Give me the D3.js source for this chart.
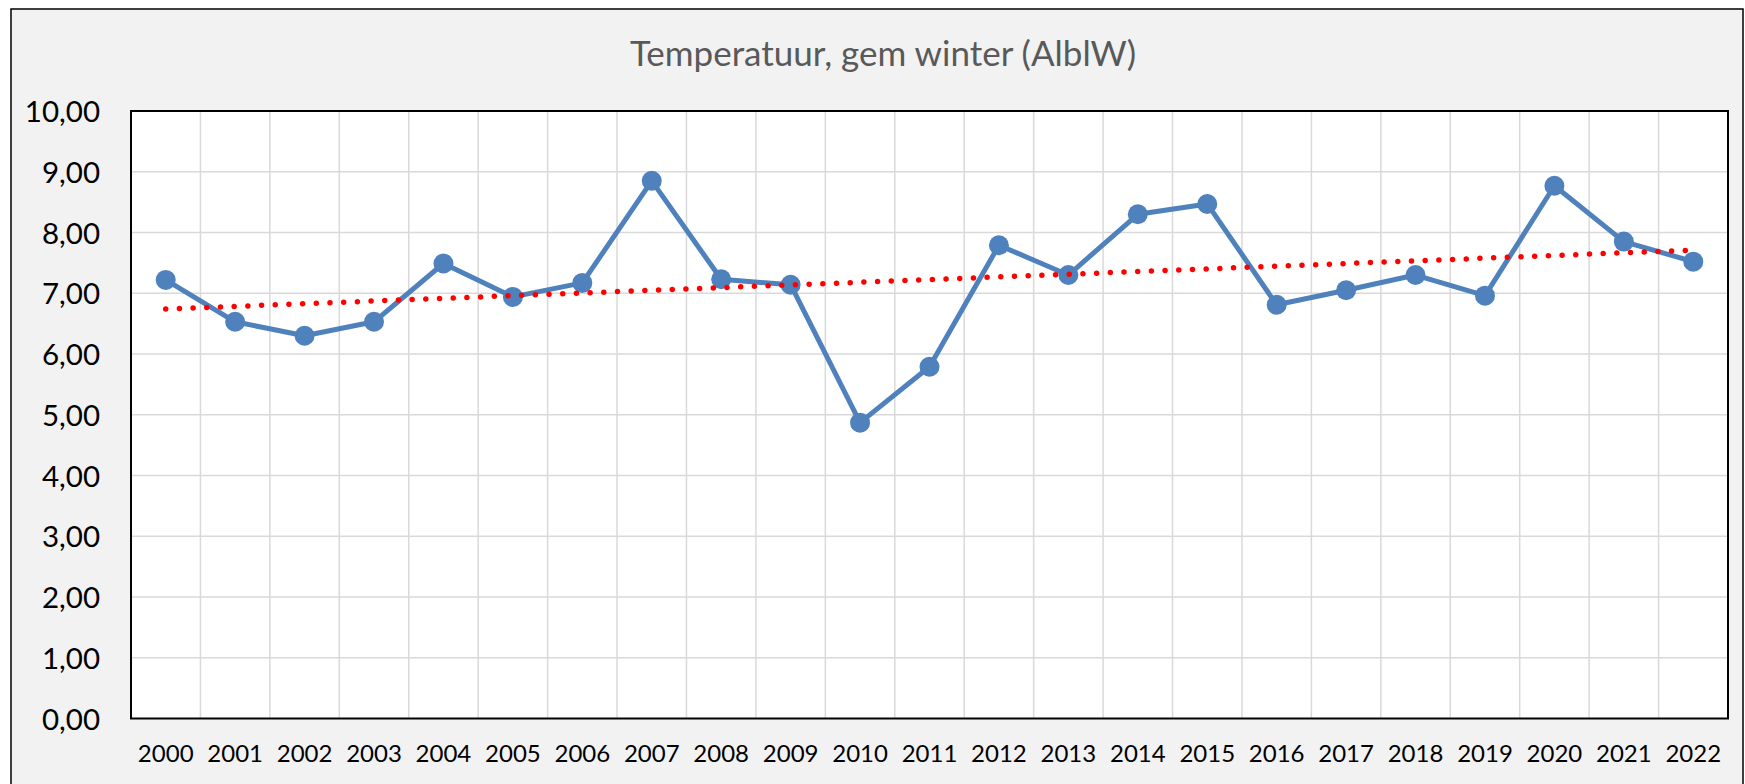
<!DOCTYPE html>
<html>
<head>
<meta charset="utf-8">
<script src="https://cdn.jsdelivr.net/npm/d3@7"></script>
<style>
  html, body { margin: 0; padding: 0; background: #ffffff; }
  svg { display: block; }
</style>
</head>
<body>
<svg id="chart" width="1745" height="784"></svg>
<script>
// ---- data ----
const years = ["2000","2001","2002","2003","2004","2005","2006","2007","2008","2009","2010","2011",
               "2012","2013","2014","2015","2016","2017","2018","2019","2020","2021","2022"];
const temps = [7.22, 6.53, 6.30, 6.53, 7.49, 6.94, 7.17, 8.85, 7.23, 7.14, 4.87, 5.79,
               7.79, 7.30, 8.30, 8.47, 6.81, 7.05, 7.30, 6.96, 8.77, 7.85, 7.52];
const trendYears = ["2000", "2022"];
const trendValues = [6.74, 7.71];
const yTicks = [0, 1, 2, 3, 4, 5, 6, 7, 8, 9, 10];
const title = "Temperatuur, gem winter (AlblW)";

// ---- layout ----
const W = 1745, H = 784;
const plot = { left: 131, right: 1728, top: 111, bottom: 718.5 };
const svg = d3.select("#chart");

const x = d3.scaleBand().domain(years).range([plot.left, plot.right]).padding(0);
const y = d3.scaleLinear().domain([0, 10]).range([plot.bottom, plot.top]);
const cx = d => x(d) + x.bandwidth() / 2;

const nl = d3.formatLocale({ decimal: ",", thousands: ".", grouping: [3], currency: ["€", ""] });
const fmt = nl.format(".2f");

// chart area background + border
svg.append("rect")
  .attr("x", 11).attr("y", 9).attr("width", 1743 - 11).attr("height", 800)
  .attr("fill", "#f2f2f2").attr("stroke", "#000").attr("stroke-width", 1.5);

// plot background
svg.append("rect")
  .attr("x", plot.left).attr("y", plot.top)
  .attr("width", plot.right - plot.left).attr("height", plot.bottom - plot.top)
  .attr("fill", "#ffffff");

// horizontal gridlines
svg.append("g").selectAll("line").data(yTicks.slice(1, -1)).join("line")
  .attr("x1", plot.left).attr("x2", plot.right)
  .attr("y1", d => y(d)).attr("y2", d => y(d))
  .attr("stroke", "#d9d9d9").attr("stroke-width", 1.5);

// vertical gridlines (band boundaries)
svg.append("g").selectAll("line").data(years.slice(1)).join("line")
  .attr("x1", d => x(d)).attr("x2", d => x(d))
  .attr("y1", plot.top).attr("y2", plot.bottom)
  .attr("stroke", "#d9d9d9").attr("stroke-width", 1.5);

// y axis labels
const yAxis = d3.axisLeft(y).tickValues(yTicks).tickFormat(fmt).tickSize(0).tickPadding(0);
const gy = svg.append("g").attr("transform", `translate(${plot.left - 31},0)`).call(yAxis);
gy.select(".domain").remove();
gy.selectAll("text")
  .attr("font-family", "Lato, 'Open Sans', sans-serif")
  .attr("font-size", 29.5).attr("fill", "#000").attr("dy", "0.36em");

// x axis labels
const xAxis = d3.axisBottom(x).tickSize(0).tickPadding(0);
const gx = svg.append("g").attr("transform", `translate(0,${plot.bottom + 35})`).call(xAxis);
gx.select(".domain").remove();
gx.selectAll("text")
  .attr("font-family", "Lato, 'Open Sans', sans-serif")
  .attr("font-size", 24).attr("fill", "#000").attr("dy", "0.36em");

// data line
const line = d3.line().x((d, i) => cx(years[i])).y(d => y(d));
svg.append("path").datum(temps)
  .attr("d", line).attr("fill", "none")
  .attr("stroke", "#4f81bd").attr("stroke-width", 5).attr("stroke-linejoin", "round");

// markers
svg.append("g").selectAll("circle").data(temps).join("circle")
  .attr("cx", (d, i) => cx(years[i])).attr("cy", d => y(d)).attr("r", 10)
  .attr("fill", "#4f81bd");

// trend line (dotted)
const tline = d3.line().x((d, i) => cx(trendYears[i])).y(d => y(d));
svg.append("path").datum(trendValues)
  .attr("d", tline).attr("fill", "none")
  .attr("stroke", "#ff0000").attr("stroke-width", 5.5)
  .attr("stroke-linecap", "round").attr("stroke-dasharray", "0 13.7");

// plot border
svg.append("rect")
  .attr("x", plot.left).attr("y", plot.top)
  .attr("width", plot.right - plot.left).attr("height", plot.bottom - plot.top)
  .attr("fill", "none").attr("stroke", "#000").attr("stroke-width", 2);

// title
svg.append("text")
  .attr("x", 883).attr("y", 66).attr("text-anchor", "middle")
  .attr("font-family", "Lato, 'Open Sans', sans-serif").attr("font-size", 35)
  .attr("fill", "#595959").text(title);
</script>
</body>
</html>
